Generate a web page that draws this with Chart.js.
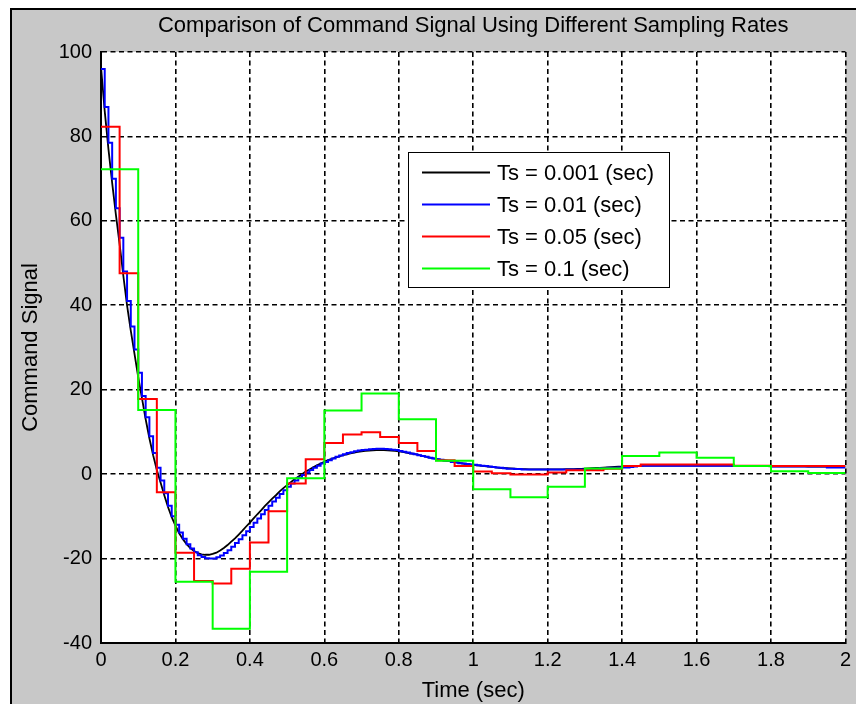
<!DOCTYPE html>
<html>
<head>
<meta charset="utf-8">
<script src="https://cdn.jsdelivr.net/npm/chart.js@4.4.1/dist/chart.umd.min.js"></script>
<style>
  html, body { margin: 0; padding: 0; background: #ffffff; }
  #c { display: block; }
</style>
</head>
<body>
<canvas id="c" width="856" height="704"></canvas>
<script>
// ---------------- data ----------------
const chartTitle = 'Comparison of Command Signal Using Different Sampling Rates';
const xTitle = 'Time (sec)';
const yTitle = 'Command Signal';

const seriesLabels = ['Ts = 0.001 (sec)', 'Ts = 0.01 (sec)', 'Ts = 0.05 (sec)', 'Ts = 0.1 (sec)'];
const seriesColors = ['#000000', '#0000ff', '#ff0000', '#00ff00'];

const xTickValues = [0, 0.2, 0.4, 0.6, 0.8, 1, 1.2, 1.4, 1.6, 1.8, 2];
const xTickLabels = ['0', '0.2', '0.4', '0.6', '0.8', '1', '1.2', '1.4', '1.6', '1.8', '2'];
const yTickValues = [-40, -20, 0, 20, 40, 60, 80, 100];
const yTickLabels = ['-40', '-20', '0', '20', '40', '60', '80', '100'];

// sample periods of each series (sec)
const tsBlack = 0.01;   // black curve every 0.01 s
const tsBlue = 0.01;
const tsRed = 0.05;
const tsGreen = 0.1;

// Ts = 0.001 (smooth curve), values every 0.01 s from 0 to 2.00
const blackValues = [
  96.5, 86, 77, 69, 61.5, 54.5, 47, 40, 34, 28.5,
  23, 18, 13, 8.5, 4.5, 1, -2, -5, -7.8, -10.2,
  -12.2, -14, -15.4, -16.6, -17.5, -18.2, -18.7, -19, -19.1, -19.1,
  -18.9, -18.6, -18.1, -17.5, -16.8, -16, -15.2, -14.3, -13.4, -12.4,
  -11.5, -10.5, -9.5, -8.6, -7.6, -6.7, -5.8, -5, -4.1, -3.3,
  -2.6, -1.9, -1.2, -0.6, 0, 0.6, 1.1, 1.6, 2.1, 2.5,
  2.9, 3.3, 3.6, 3.9, 4.2, 4.5, 4.7, 4.9, 5.1, 5.3,
  5.4, 5.5, 5.6, 5.65, 5.7, 5.7, 5.7, 5.65, 5.6, 5.5,
  5.4, 5.25, 5.1, 4.95, 4.8, 4.6, 4.4, 4.2, 4, 3.8,
  3.6, 3.45, 3.3, 3.15, 3, 2.85, 2.7, 2.55, 2.4, 2.3,
  2.2, 2.1, 2, 1.9, 1.8, 1.7, 1.6, 1.5, 1.45, 1.4,
  1.35, 1.3, 1.25, 1.2, 1.2, 1.15, 1.15, 1.15, 1.15, 1.15,
  1.15, 1.15, 1.15, 1.15, 1.15, 1.2, 1.2, 1.2, 1.25, 1.25,
  1.3, 1.35, 1.4, 1.45, 1.5, 1.55, 1.6, 1.65, 1.7, 1.75,
  1.8, 1.85, 1.9, 1.9, 1.95, 1.95, 2, 2, 2, 2,
  2, 2, 2, 2, 2, 2, 2, 2, 2, 2,
  2, 2, 2, 2, 2, 2, 2, 2, 2, 2,
  1.9, 1.9, 1.9, 1.9, 1.9, 1.9, 1.9, 1.9, 1.9, 1.9,
  1.85, 1.85, 1.85, 1.85, 1.85, 1.85, 1.85, 1.85, 1.85, 1.85,
  1.8, 1.8, 1.8, 1.8, 1.8, 1.8, 1.8, 1.8, 1.8, 1.8,
  1.8
];

// Ts = 0.01 (zero-order hold), one value per sample from 0 to 2.00
const blueValues = [
  96, 87, 78.5, 70, 63, 56, 48, 41, 35, 29.5,
  24, 18.5, 13.5, 9, 5, 1.5, -1.5, -4.5, -7.5, -10,
  -12, -13.8, -15.3, -16.6, -17.6, -18.5, -19.2, -19.6, -19.9, -20,
  -20, -19.7, -19.3, -18.7, -18, -17.2, -16.3, -15.4, -14.5, -13.5,
  -12.5, -11.5, -10.5, -9.5, -8.5, -7.5, -6.5, -5.6, -4.7, -3.8,
  -3, -2.2, -1.5, -0.8, -0.2, 0.4, 1, 1.5, 2, 2.5,
  2.9, 3.3, 3.7, 4.1, 4.4, 4.7, 5, 5.2, 5.4, 5.6,
  5.7, 5.8, 5.9, 5.95, 6, 6, 5.95, 5.9, 5.8, 5.7,
  5.5, 5.3, 5.1, 4.9, 4.7, 4.5, 4.3, 4.1, 3.9, 3.7,
  3.5, 3.4, 3.2, 3.1, 2.9, 2.8, 2.6, 2.5, 2.4, 2.3,
  2.2, 2.1, 2, 1.9, 1.8, 1.7, 1.6, 1.5, 1.4, 1.3,
  1.3, 1.2, 1.2, 1.1, 1.1, 1.1, 1.1, 1.1, 1.1, 1.1,
  1.1, 1.1, 1.1, 1.1, 1.1, 1.1, 1.1, 1.1, 1.1, 1.1,
  1.2, 1.2, 1.3, 1.3, 1.4, 1.4, 1.5, 1.5, 1.5, 1.6,
  1.6, 1.6, 1.7, 1.8, 1.9, 2, 2, 2, 2, 2,
  2, 2, 2, 2, 2, 2, 2, 2, 2, 2,
  2, 2, 2, 2, 2, 2, 2, 2, 2, 2,
  1.9, 1.9, 1.9, 1.9, 1.9, 1.9, 1.9, 1.9, 1.9, 1.9,
  1.8, 1.8, 1.8, 1.8, 1.8, 1.8, 1.8, 1.8, 1.8, 1.8,
  1.8, 1.8, 1.8, 1.8, 1.8, 1.6, 1.6, 1.6, 1.6, 1.6,
  1.6
];

// Ts = 0.05 (zero-order hold), samples 0 .. 2.00
const redValues = [
  82.3, 47.6, 17.8, -4.3, -18.6, -25.3, -25.9, -22.4, -16.2, -8.8,
  -2.2, 3.5, 7.4, 9.4, 9.9, 8.8, 7.4, 5.5, 3.3, 1.9,
  0.6, 0.2, -0.1, -0.1, 0.4, 0.9, 0.9, 1.3, 1.9, 2.3,
  2.3, 2.3, 2.3, 2.3, 2.0, 2.0, 1.9, 1.9, 1.9, 1.9,
  1.9
];

// Ts = 0.1 (zero-order hold), samples 0 .. 2.0
const greenValues = [
  72.2, 15.2, -25.5, -36.6, -23.1, -1.0, 15.1, 19.1, 13.0, 3.2,
  -3.6, -5.5, -3.0, 1.35, 4.3, 5.1, 3.9, 1.9, 0.7, 0.3,
  0.3
];

// ---------------- build the library's data ----------------
function toPoints(values, ts) {
  return values.map((v, i) => ({ x: Math.round(i * ts * 1000) / 1000, y: v }));
}

const FONT = "'Liberation Sans', Arial, Helvetica, sans-serif";

const frameBackground = {
  id: 'frameBackground',
  beforeDraw(chart) {
    const { ctx, chartArea: a, width, height } = chart;
    ctx.save();
    ctx.fillStyle = '#ffffff';
    ctx.fillRect(0, 0, width, height);
    ctx.fillStyle = '#c8c8c8';
    ctx.fillRect(11, 9, width - 11, height - 9);
    ctx.strokeStyle = '#000000';
    ctx.lineWidth = 2;
    ctx.beginPath();
    ctx.moveTo(11, height);
    ctx.lineTo(11, 9);
    ctx.lineTo(width, 9);
    ctx.stroke();
    ctx.fillStyle = '#ffffff';
    ctx.fillRect(a.left, a.top, a.right - a.left, a.bottom - a.top);
    ctx.restore();
  }
};

const boxLegend = {
  id: 'boxLegend',
  afterDatasetsDraw(chart) {
    const { ctx } = chart;
    const bx = 408.5, by = 152.5, bw = 261, bh = 135;
    ctx.save();
    ctx.fillStyle = '#ffffff';
    ctx.fillRect(bx, by, bw, bh);
    ctx.strokeStyle = '#000000';
    ctx.lineWidth = 1;
    ctx.strokeRect(bx, by, bw, bh);
    ctx.font = '22px ' + FONT;
    ctx.textBaseline = 'middle';
    ctx.textAlign = 'left';
    chart.data.datasets.forEach((ds, i) => {
      const y = 172.5 + i * 32;
      ctx.strokeStyle = ds.borderColor;
      ctx.lineWidth = 2;
      ctx.beginPath();
      ctx.moveTo(422, y);
      ctx.lineTo(490, y);
      ctx.stroke();
      ctx.fillStyle = '#000000';
      ctx.fillText(ds.label, 497, y + 1);
    });
    ctx.restore();
  }
};

const datasets = [
  { label: seriesLabels[0], data: toPoints(blackValues, tsBlack), borderColor: seriesColors[0], borderWidth: 1.8, stepped: false, order: 3 },
  { label: seriesLabels[1], data: toPoints(blueValues, tsBlue), borderColor: seriesColors[1], borderWidth: 2, stepped: 'before', order: 2 },
  { label: seriesLabels[2], data: toPoints(redValues, tsRed), borderColor: seriesColors[2], borderWidth: 2, stepped: 'before', order: 1 },
  { label: seriesLabels[3], data: toPoints(greenValues, tsGreen), borderColor: seriesColors[3], borderWidth: 2, stepped: 'before', order: 0 }
];
datasets.forEach(d => { d.pointRadius = 0; d.fill = false; d.tension = 0; d.backgroundColor = d.borderColor; });

new Chart(document.getElementById('c'), {
  type: 'line',
  data: { datasets },
  options: {
    responsive: false,
    animation: false,
    devicePixelRatio: 1,
    layout: { padding: { left: 0, right: 5, top: 0, bottom: 0 } },
    plugins: {
      legend: { display: false },
      tooltip: { enabled: false },
      title: {
        display: true,
        text: chartTitle,
        fullSize: false,
        color: '#000000',
        font: { family: FONT, size: 22, weight: 'normal', lineHeight: 1.2 },
        padding: { top: 12.5, bottom: 13.1 }
      }
    },
    scales: {
      x: {
        type: 'linear',
        min: 0, max: 2,
        afterFit: s => { s.height = 61; },
        afterBuildTicks: s => { s.ticks = xTickValues.map(v => ({ value: v })); },
        ticks: {
          autoSkip: false, maxRotation: 0,
          color: '#000000',
          font: { family: FONT, size: 20 },
          padding: 5,
          callback: (v, i) => xTickLabels[i]
        },
        grid: { color: '#000000', lineWidth: 1.6, drawTicks: false },
        border: { display: true, color: '#000000', width: 2, dash: [5, 3.5] },
        title: {
          display: true, text: xTitle, color: '#000000',
          font: { family: FONT, size: 22, lineHeight: 1.2 },
          padding: { top: 0, bottom: 0 }
        }
      },
      y: {
        type: 'linear',
        min: -40, max: 100,
        afterFit: s => { s.width = 101; },
        afterBuildTicks: s => { s.ticks = yTickValues.map(v => ({ value: v })); },
        ticks: {
          color: '#000000',
          font: { family: FONT, size: 20 },
          padding: 9,
          callback: (v, i) => yTickLabels[i]
        },
        grid: { color: '#000000', lineWidth: 1.6, drawTicks: false },
        border: { display: true, color: '#000000', width: 2, dash: [5, 3.5] },
        title: {
          display: true, text: yTitle, color: '#000000',
          font: { family: FONT, size: 22, lineHeight: 1.2 },
          padding: { top: 18, bottom: 0 }
        }
      }
    }
  },
  plugins: [frameBackground, boxLegend]
});
</script>
</body>
</html>
